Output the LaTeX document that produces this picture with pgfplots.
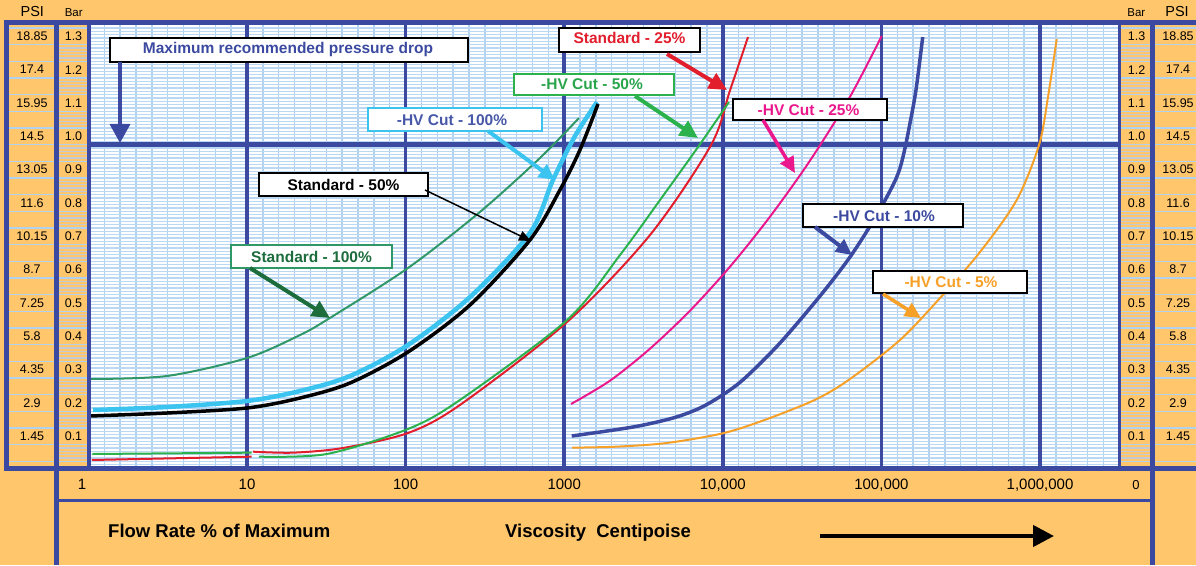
\documentclass[border=0pt]{standalone}
\usepackage{pgfplots}
\pgfplotsset{compat=1.18}
\usepackage{fontspec}
\setmainfont{Liberation Sans}
\usetikzlibrary{arrows.meta}

\definecolor{bgor}{RGB}{255,198,108}
\definecolor{fblue}{RGB}{59,74,160}
\definecolor{lgrid}{RGB}{176,210,240}
\definecolor{hgrid}{RGB}{186,216,243}
\definecolor{lgray}{RGB}{196,202,212}
\definecolor{teal1}{RGB}{48,152,104}
\definecolor{grn}{RGB}{44,178,76}
\definecolor{grntxt}{RGB}{40,165,75}
\definecolor{red1}{RGB}{226,30,44}
\definecolor{mag}{RGB}{234,24,140}
\definecolor{org}{RGB}{247,160,40}
\definecolor{lblue}{RGB}{60,196,240}
\definecolor{dgreen}{RGB}{28,108,60}
\definecolor{tblue}{RGB}{72,88,168}

\newcommand\lab{\fontsize{15.5}{18}\selectfont\bfseries}

\begin{document}
\begin{tikzpicture}
% ---------- background and label columns (pixel coordinates, y down)
\begin{scope}[shift={(0pt,565pt)},x=1pt,y=-1pt]
  \fill[bgor] (0,0) rectangle (1196,565);
  \foreach \k in {1,...,27}{
    \pgfmathsetmacro\yy{478-333.3*\k*0.05}
    \draw[lgrid,line width=1.3] (9,\yy) -- (88,\yy);
    \draw[lgrid,line width=1.3] (1121,\yy) -- (1196,\yy);
  }
  \foreach \k in {0,...,13}{
    \foreach \j in {6,...,9}{
      \pgfmathsetmacro\yy{478-333.3*(\k*0.1+\j*0.01)}
      \ifdim\yy pt>25pt
        \draw[lgray,line width=1.1] (59,\yy) -- (88,\yy);
        \draw[lgray,line width=1.1] (1121,\yy) -- (1150,\yy);
      \fi
    }
  }
\end{scope}

% ---------- the chart
\begin{axis}[
  at={(88.4pt,96.5pt)}, anchor=south west,
  scale only axis, width=1031.1pt, height=446pt,
  xmode=log, xmin=1, xmax=3.171e6,
  ymin=0.0285, ymax=1.3666,
  axis background/.style={fill=white},
  axis line style={draw=none},
  xtick={1,10,100,1000,10000,100000,1000000},
  xticklabels={},
  extra x ticks={1,10,100,1000,10000,100000,1000000},
  extra x tick labels={1\hspace*{12.8pt},10,100,1000,{10,000},{100,000},{1,000,000}},
  extra x tick style={grid=major, major grid style={draw=fblue, line width=3.5pt}},
  xticklabel style={anchor=base, yshift=-20.5pt, font=\fontsize{15}{18}\selectfont, text=black},
  minor xtick={1.259,1.585,1.995,2.512,3.162,3.981,5.012,6.310,7.943,
    12.59,15.85,19.95,25.12,31.62,39.81,50.12,63.10,79.43,
    125.9,158.5,199.5,251.2,316.2,398.1,501.2,631.0,794.3,
    1259,1585,1995,2512,3162,3981,5012,6310,7943,
    12589,15849,19953,25119,31623,39811,50119,63096,79433,
    125893,158489,199526,251189,316228,398107,501187,630957,794328,
    1258925,1584893,1995262,2511886},
  ytick={0.03,0.04,...,1.36},
  yticklabels={},
  grid=both,
  minor grid style={draw=lgrid, line width=1.4pt},
  major grid style={draw=hgrid, line width=1.1pt},
  major tick length=0pt, minor tick length=0pt,
]
% maximum recommended pressure drop
\draw[fblue, line width=5pt] (axis cs:1,1.0) -- (axis cs:3.171e6,1.0);

% Standard - 100%
\addplot[teal1, line width=2pt, smooth] coordinates {
 (1.02,0.297) (3.13,0.306) (10,0.360) (21.6,0.429) (33.3,0.480)
 (103.5,0.630) (294,0.798) (703,0.960) (1239,1.080)};
% -HV Cut - 100%
\addplot[lblue, line width=4.5pt, smooth] coordinates {
 (1.07,0.204) (3.13,0.213) (10,0.231) (21.6,0.261) (44.6,0.306)
 (103.5,0.399) (254.7,0.543) (608,0.735) (849,0.894) (1170,1.026) (1611,1.128)};
% Standard - 50%
\addplot[black, line width=3.5pt, smooth] coordinates {
 (1.02,0.186) (3.13,0.195) (10,0.210) (21.6,0.240) (44.6,0.285)
 (103.5,0.378) (254.7,0.519) (608,0.714) (940,0.864) (1256,0.984) (1633,1.122)};
% Standard - 25% (low flow segment and viscosity segment)
\addplot[red1, line width=2pt] coordinates {(1.05,0.054) (10.7,0.064)};
\addplot[red1, line width=2pt, smooth] coordinates {
 (10.9,0.079) (19.5,0.076) (40.3,0.090) (103.5,0.135) (220,0.219)
 (1042,0.468) (3475,0.729) (8430,0.999) (11120,1.164) (14420,1.323)};
% -HV Cut - 50%
\addplot[grn, line width=2pt] coordinates {(1.06,0.072) (10.7,0.076)};
\addplot[grn, line width=2pt, smooth] coordinates {
 (11.9,0.064) (31.9,0.072) (103.5,0.147) (220,0.234) (1042,0.474)
 (2249,0.669) (4018,0.834) (6980,0.993) (10940,1.128)};
% -HV Cut - 25%
\addplot[mag, line width=2pt, smooth] coordinates {
 (1104,0.222) (1945,0.292) (3475,0.388) (6214,0.502) (11100,0.634)
 (19840,0.784) (35450,0.952) (63390,1.144) (100400,1.326)};
% -HV Cut - 10%
\addplot[fblue, line width=3.5pt, smooth] coordinates {
 (1115,0.126) (2716,0.153) (4853,0.180) (7183,0.210) (10180,0.252)
 (13800,0.300) (22950,0.405) (41020,0.546) (63390,0.663) (91130,0.780)
 (118400,0.879) (131000,0.930) (140900,0.990) (151500,1.065)
 (165200,1.164) (182200,1.323)};
% -HV Cut - 5%
\addplot[org, line width=2pt, smooth] coordinates {
 (1120,0.091) (2143,0.094) (4430,0.105) (10180,0.135) (19840,0.180)
 (39090,0.237) (63390,0.297) (131000,0.414) (234200,0.540) (418500,0.678)
 (713000,0.834) (985600,0.999) (1123000,1.143) (1274000,1.317)};
\end{axis}

% ---------- frame, labels, annotations (pixel coordinates, y down)
\begin{scope}[shift={(0pt,565pt)},x=1pt,y=-1pt]
  \draw[fblue,line width=5] (4,22.5) -- (1196,22.5);
  \draw[fblue,line width=5] (4,468.5) -- (1196,468.5);
  \draw[fblue,line width=5] (6.5,20) -- (6.5,471);
  \draw[fblue,line width=5] (56.5,20) -- (56.5,565);
  \draw[fblue,line width=5] (1152.5,20) -- (1152.5,565);
  \draw[fblue,line width=3] (89.5,22.5) -- (89.5,468.5);
  \draw[fblue,line width=3] (1119.5,22.5) -- (1119.5,468.5);
  \draw[fblue,line width=3.5] (56.5,500.5) -- (1152.5,500.5);

  % headers
  \node[anchor=base,font=\fontsize{14.5}{16}\selectfont] at (32.3,16.7) {PSI};
  \node[anchor=base,font=\fontsize{11.5}{13}\selectfont] at (73.7,16.7) {Bar};
  \node[anchor=base,font=\fontsize{11.5}{13}\selectfont] at (1136.3,16.7) {Bar};
  \node[anchor=base,font=\fontsize{14.5}{16}\selectfont] at (1177,16.7) {PSI};

  % column values
  \foreach \k/\b/\p in {1/0.1/1.45, 2/0.2/2.9, 3/0.3/4.35, 4/0.4/5.8, 5/0.5/7.25,
      6/0.6/8.7, 7/0.7/10.15, 8/0.8/11.6, 9/0.9/13.05, 10/1.0/14.5,
      11/1.1/15.95, 12/1.2/17.4, 13/1.3/18.85}{
    \pgfmathsetmacro\yy{478-333.3*(\k*0.1+0.025)}
    \node[inner sep=0pt,font=\fontsize{12.5}{14}\selectfont] at (32,\yy) {\p};
    \node[inner sep=0pt,font=\fontsize{12.5}{14}\selectfont] at (73.5,\yy) {\b};
    \node[inner sep=0pt,font=\fontsize{12.5}{14}\selectfont] at (1136.5,\yy) {\b};
    \node[inner sep=0pt,font=\fontsize{12.5}{14}\selectfont] at (1178,\yy) {\p};
  }
  \node[anchor=base,font=\fontsize{13}{15}\selectfont] at (1136,489) {0};

  % bottom titles
  \node[anchor=base west,inner sep=0pt,font=\fontsize{18.5}{21}\selectfont\bfseries] at (108,537) {Flow Rate \% of Maximum};
  \node[anchor=base west,inner sep=0pt,font=\fontsize{18.5}{21}\selectfont\bfseries] at (505,537) {Viscosity\ \ Centipoise};
  \draw[black,line width=4.3,-{Triangle[length=21pt,width=21pt]}] (820,536) -- (1054,536);

  % annotation boxes
  \newcommand\tbox[8]{%
    \fill[black!60] (#1+1.2,#2+1.2) rectangle (#3+1.2,#4+1.2);
    \draw[#5,line width=1.2,fill=white] (#1,#2) rectangle (#3,#4);
    \node[anchor=base,inner sep=0pt,text=#6,font=\lab] at (#7) {#8};}
  \tbox{110}{38}{468}{62}{black}{fblue}{288,53.3}{Maximum recommended pressure drop}
  \tbox{559}{28}{700}{52}{black}{red1}{629.5,43.5}{Standard - 25\%}
  \tbox{514}{74}{674}{95}{grn}{grntxt}{592,89.5}{-HV Cut - 50\%}
  \tbox{368}{108}{542}{131}{lblue}{tblue}{452,125.2}{-HV Cut - 100\%}
  \tbox{733}{99}{887}{120}{black}{mag}{808.5,115.2}{-HV Cut - 25\%}
  \tbox{259}{173}{428}{196}{black}{black}{343.5,190.2}{Standard - 50\%}
  \tbox{231}{245}{392}{268}{teal1}{dgreen}{311.5,262.2}{Standard - 100\%}
  \tbox{803}{204}{963}{227}{black}{fblue}{884,221.2}{-HV Cut - 10\%}
  \tbox{873}{271}{1027}{293}{black}{org}{951,287.7}{-HV Cut - 5\%}

  % arrows
  \draw[fblue,line width=3.5,-{Triangle[length=19pt,width=20pt]}] (120,62) -- (120,143);
  \draw[red1,line width=4,-{Triangle[length=18pt,width=17pt]}] (667,54) -- (727,90);
  \draw[grn,line width=4,-{Triangle[length=18pt,width=17pt]}] (635,96) -- (698,138);
  \draw[lblue,line width=4,-{Triangle[length=16pt,width=15pt]}] (488,131) -- (555,180);
  \draw[mag,line width=3.5,-{Triangle[length=16pt,width=15pt]}] (763,120) -- (795,173);
  \draw[black,line width=1.5,-{Triangle[length=12pt,width=10pt]}] (425,190) -- (531,241);
  \draw[dgreen,line width=4,-{Triangle[length=18pt,width=17pt]}] (250,268) -- (330,318);
  \draw[fblue,line width=4,-{Triangle[length=16pt,width=15pt]}] (815,227) -- (852,255);
  \draw[org,line width=3.5,-{Triangle[length=16pt,width=15pt]}] (883,294) -- (921,318);
\end{scope}
\pgfresetboundingbox
\path[use as bounding box] (0pt,0pt) rectangle (1196pt,565pt);
\end{tikzpicture}
\end{document}
